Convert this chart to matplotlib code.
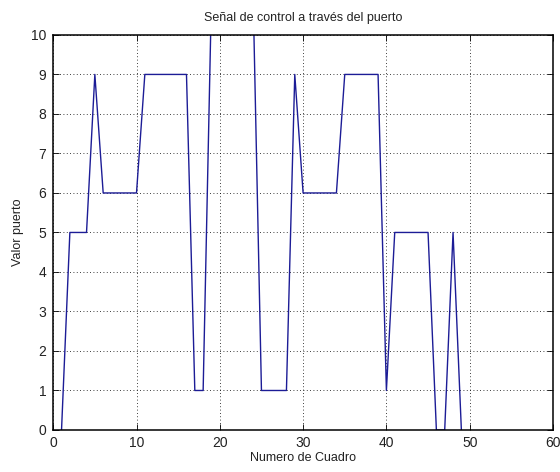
import matplotlib
matplotlib.use("Agg")
import matplotlib.pyplot as plt

# Data (MATLAB-style frame index starting at 1)
frames = list(range(1, 50))
values = [0, 5, 5, 5, 9, 6, 6, 6, 6, 6,
          9, 9, 9, 9, 9, 9, 1, 1, 11, 11,
          11, 11, 11, 11, 1, 1, 1, 1, 9, 6,
          6, 6, 6, 6, 9, 9, 9, 9, 9, 1,
          5, 5, 5, 5, 5, 0, 0, 5, 0]

x_ticks = [0, 10, 20, 30, 40, 50, 60]
y_ticks = list(range(0, 11))

plt.rcParams['font.family'] = ['Liberation Sans', 'DejaVu Sans']

fig = plt.figure(figsize=(5.6, 4.72), dpi=100)
ax = fig.add_axes([0.095, 0.089, 0.8925, 0.837])
ax.plot(frames, values, color='#1c1c96', linewidth=1.0, zorder=2)
ax.set_xlim(0, 60)
ax.set_ylim(0, 10)
ax.set_xticks(x_ticks)
ax.set_yticks(y_ticks)
ax.grid(True, color='black', linestyle=(0, (1, 3)), linewidth=0.6)
ax.tick_params(direction='in', top=True, right=True, labelsize=10, length=4, width=0.6,
               labelcolor='#222222')
ax.tick_params(axis='x', pad=4)
ax.tick_params(axis='y', pad=5)
for s in ax.spines.values():
    s.set_linewidth(1.1)
    s.set_zorder(3)
ax.set_title('Señal de control a través del puerto', fontsize=9, pad=10, color='#222222')
ax.set_xlabel('Numero de Cuadro', fontsize=9, labelpad=2, color='#222222')
ax.set_ylabel('Valor puerto', fontsize=9, labelpad=5, color='#222222')

fig.savefig('out.png', dpi=100, facecolor='white')
